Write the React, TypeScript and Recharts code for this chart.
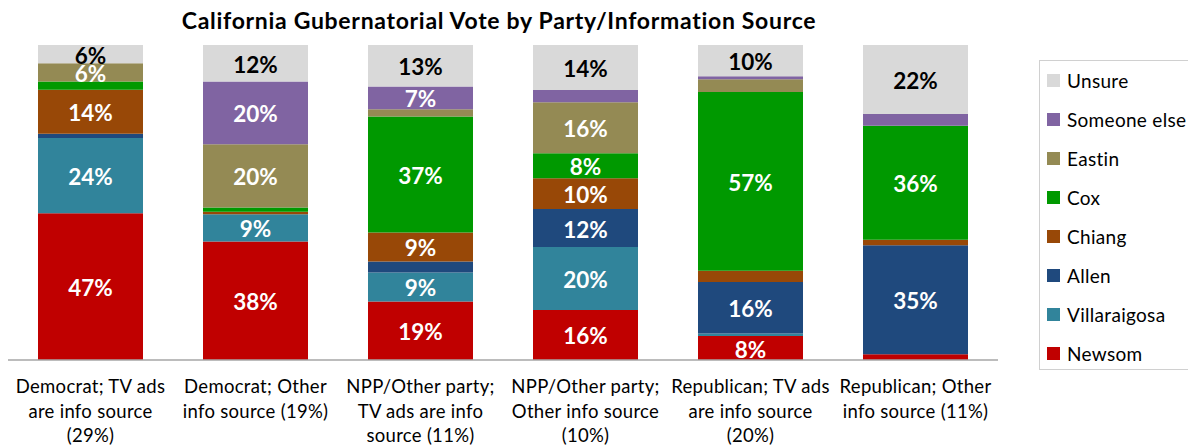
import { Bar, BarChart, LabelList, XAxis, YAxis } from "recharts";
import { type JSX } from "react";

const categories = [
  "Democrat; TV ads are info source (29%)",
  "Democrat; Other info source (19%)",
  "NPP/Other party; TV ads are info source (11%)",
  "NPP/Other party; Other info source (10%)",
  "Republican; TV ads are info source (20%)",
  "Republican; Other info source (11%)",
];

const tickLines = [
  ["Democrat; TV ads", "are info source", "(29%)"],
  ["Democrat; Other", "info source (19%)"],
  ["NPP/Other party;", "TV ads are info", "source (11%)"],
  ["NPP/Other party;", "Other info source", "(10%)"],
  ["Republican; TV ads", "are info source", "(20%)"],
  ["Republican; Other", "info source (11%)"],
];

const newsom = [46.6, 37.6, 18.6, 15.9, 7.6, 1.8];
const villaraigosa = [23.9, 8.7, 9.2, 20.0, 0.8, 0];
const allen = [1.3, 0, 3.5, 12.0, 16.4, 34.6];
const chiang = [14.0, 0.8, 9.2, 9.8, 3.5, 1.8];
const cox = [2.6, 1.3, 36.8, 7.9, 56.8, 36.2];
const eastin = [5.8, 20.1, 2.3, 16.2, 4.0, 0];
const someoneElse = [0, 19.9, 7.2, 3.9, 1.0, 3.7];
const unsure = [5.8, 11.6, 13.2, 14.3, 9.9, 21.9];

const series = [
  { key: "Newsom", values: newsom, color: "#c00000" },
  { key: "Villaraigosa", values: villaraigosa, color: "#31849b" },
  { key: "Allen", values: allen, color: "#1f497d" },
  { key: "Chiang", values: chiang, color: "#984807" },
  { key: "Cox", values: cox, color: "#009900" },
  { key: "Eastin", values: eastin, color: "#948a54" },
  { key: "Someone else", values: someoneElse, color: "#8064a2" },
  { key: "Unsure", values: unsure, color: "#d9d9d9" },
];

const data = categories.map((name, i) => {
  const row: Record<string, any> = { name };
  series.forEach((s) => {
    row[s.key] = s.values[i];
  });
  return row;
});

const FONT = "Lato, 'Open Sans', sans-serif";

const renderTick = ({ x, y, payload }: any) => {
  const lines = tickLines[payload.index] ?? [payload.value];
  return (
    <g>
      {lines.map((line: string, i: number) => (
        <text
          key={i}
          x={x}
          y={y + 18 + i * 24.5}
          textAnchor="middle"
          dominantBaseline="central"
          fontFamily={FONT}
          fontSize={18.5}
          letterSpacing={0.3}
          fill="#000"
        >
          {line}
        </text>
      ))}
    </g>
  );
};

const makeLabel = (dark: boolean) => (props: any) => {
  const { x, y, width, height, value } = props;
  if (value == null || value < 5) return null;
  return (
    <text
      x={x + width / 2}
      y={y + height / 2 + 1}
      textAnchor="middle"
      dominantBaseline="central"
      fontFamily={FONT}
      fontWeight={700}
      fontSize={22.5}
      fill={dark ? "#000" : "#fff"}
    >
      {`${Math.round(value)}%`}
    </text>
  );
};

// legend drawn as plain html so it doesn't eat into the plot area
const LegendBox = (): JSX.Element => {
  const items = [...series].reverse();
  return (
    <div
      style={{
        position: "absolute",
        left: 1031,
        top: 52,
        border: "1px solid #d0d0d0",
        width: 170,
        height: 310,
        boxSizing: "border-box",
        fontFamily: FONT,
      }}
    >
      {items.map((s) => (
        <div
          key={s.key}
          style={{
            display: "flex",
            alignItems: "center",
            height: 39,
            fontSize: 19,
            letterSpacing: 0.3,
            color: "#000",
            whiteSpace: "nowrap",
          }}
        >
          <span
            style={{
              display: "inline-block",
              width: 13,
              height: 13,
              background: s.color,
              marginLeft: 7,
              marginRight: 7,
            }}
          />
          {s.key}
        </div>
      ))}
    </div>
  );
};

const App = (): JSX.Element => {
  return (
    <div style={{ position: "relative", width: 1188, height: 440 }}>
      <div
        style={{
          position: "absolute",
          top: -2,
          left: 0,
          width: 982,
          textAlign: "center",
          fontFamily: FONT,
          fontWeight: 700,
          fontSize: 23,
          letterSpacing: 0.7,
          lineHeight: "28px",
          color: "#000",
        }}
      >
        California Gubernatorial Vote by Party/Information Source
      </div>
      <BarChart
        width={1188}
        height={440}
        data={data}
        margin={{ top: 37, right: 198, bottom: 0, left: 0 }}
        barCategoryGap={0}
      >
        <XAxis
          dataKey="name"
          axisLine={{ stroke: "#a6a6a6", strokeWidth: 1.5 }}
          tickLine={false}
          tick={renderTick}
          interval={0}
          height={88}
        />
        <YAxis hide domain={[0, 100]} />
        {series.map((s) => (
          <Bar
            key={s.key}
            dataKey={s.key}
            stackId="a"
            fill={s.color}
            barSize={105}
            isAnimationActive={false}
          >
            <LabelList dataKey={s.key} content={makeLabel(s.key === "Unsure")} />
          </Bar>
        ))}
      </BarChart>
      <LegendBox />
    </div>
  );
};

export default App;
